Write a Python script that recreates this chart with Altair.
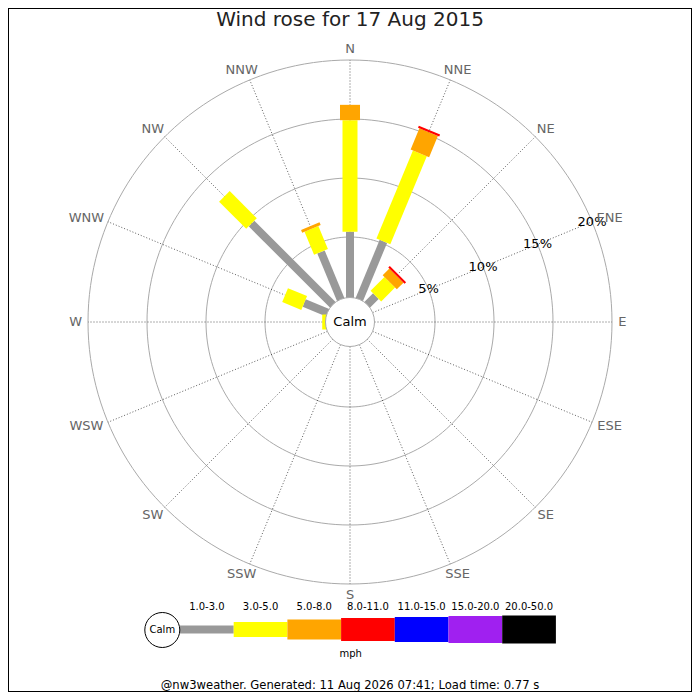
import altair as alt
import pandas as pd

# ---------------- text ----------------
TITLE = "Wind rose for 17 Aug 2015"
FOOTER = "@nw3weather. Generated: 11 Aug 2026 07:41; Load time: 0.77 s"
UNIT_LABEL = "mph"
CALM_LABEL = "Calm"

# ---------------- data ----------------
directions = ["N", "NNE", "NE", "ENE", "E", "ESE", "SE", "SSE",
              "S", "SSW", "SW", "WSW", "W", "WNW", "NW", "NNW"]
speed_classes = ["1.0-3.0", "3.0-5.0", "5.0-8.0", "8.0-11.0",
                 "11.0-15.0", "15.0-20.0", "20.0-50.0"]
class_colors = ["#999999", "#ffff00", "#ffa500", "#ff0000",
                "#0000ff", "#a020f0", "#000000"]
class_widths = [8, 15, 20, 23, 25, 27, 28]

# frequency (%) of each speed class, per direction (N, NNE, ... NNW)
freq_1_3   = [5.45, 5.19, 0.90, 0, 0, 0, 0, 0, 0, 0, 0, 0, 0.00, 2.00, 9.60, 4.22]
freq_3_5   = [9.45, 8.08, 1.66, 0, 0, 0, 0, 0, 0, 0, 0, 0, 0.15, 1.75, 3.25, 2.12]
freq_5_8   = [1.30, 1.94, 0.80, 0, 0, 0, 0, 0, 0, 0, 0, 0, 0.00, 0.00, 0.00, 0.25]
freq_8_11  = [0.00, 0.18, 0.18, 0, 0, 0, 0, 0, 0, 0, 0, 0, 0.00, 0.00, 0.00, 0.00]
freq_11_15 = [0] * 16
freq_15_20 = [0] * 16
freq_20_50 = [0] * 16
series = [freq_1_3, freq_3_5, freq_5_8, freq_8_11, freq_11_15, freq_15_20, freq_20_50]

ring_pcts = [5, 10, 15, 20]
ring_labels = ["5%", "10%", "15%", "20%"]

# ---------------- layout (pixels) ----------------
W = H = 684
CX, CY = 342, 314          # centre of the rose inside the plot area
K = 11.8                   # pixels per percent
HOLE = 26                  # radius (px) where 0 % starts
CALM_R = 24.5              # calm circle radius (px)
R0 = HOLE / K
LABEL_R = 268              # anchor radius of compass labels (px)
LABEL_FS = 13
RING_LABEL_DEG = 67.5


def u(px):
    return px / K


XS = alt.Scale(domain=[-u(CX), u(W - CX)], nice=False, zero=False)
YS = alt.Scale(domain=[-u(H - CY), u(CY)], nice=False, zero=False)
FONT = "DejaVu Sans"


def X(f="x"):
    return alt.X(f"{f}:Q", scale=XS, axis=None)


def Y(f="y"):
    return alt.Y(f"{f}:Q", scale=YS, axis=None)


# ---------------- tables ----------------
bar_rows = []
for ci, (cls, vals) in enumerate(zip(speed_classes, series)):
    for di, d in enumerate(directions):
        bar_rows.append({"dir": d, "di": di, "cls": cls, "ci": ci, "pct": vals[di]})
bars_df = pd.DataFrame(bar_rows)
dirs_df = pd.DataFrame({"dir": directions, "di": list(range(len(directions)))})
rings_df = pd.DataFrame({"ring": ring_pcts, "label": ring_labels})
legend_df = pd.DataFrame({"cls": speed_classes, "ci": list(range(len(speed_classes)))})

color_scale = alt.Scale(domain=speed_classes, range=class_colors)
width_scale = alt.Scale(type="ordinal", domain=speed_classes, range=class_widths)

# grid rings (one closed line per ring, sampled over the full turn)
ring_layers = []
for rp in ring_pcts:
    ring_layers.append(
        alt.Chart(alt.sequence(0, 362, 2, as_="ang"))
        .transform_calculate(
            x=f"({rp} + {R0}) * sin(datum.ang * PI / 180)",
            y=f"({rp} + {R0}) * cos(datum.ang * PI / 180)",
        )
        .mark_line(color="#aaaaaa", strokeWidth=1)
        .encode(x=X(), y=Y(), order="ang:Q")
    )

# spokes
spokes = (
    alt.Chart(dirs_df)
    .transform_calculate(a="datum.di * 22.5 * PI / 180")
    .transform_calculate(
        x=f"{u(CALM_R)} * sin(datum.a)", y=f"{u(CALM_R)} * cos(datum.a)",
        x2=f"{20 + R0} * sin(datum.a)", y2=f"{20 + R0} * cos(datum.a)",
    )
    .mark_rule(color="#333333", strokeWidth=0.8, strokeDash=[1, 2])
    .encode(x=X(), y=Y(), x2="x2:Q", y2="y2:Q")
)

# stacked bars
bars = (
    alt.Chart(bars_df)
    .transform_stack(stack="pct", groupby=["dir"], as_=["s0", "s1"],
                     sort=[alt.SortField("ci", order="ascending")])
    .transform_filter("datum.pct > 0")
    .transform_calculate(a="datum.di * 22.5 * PI / 180")
    .transform_calculate(
        r1=f"datum.s0 > 0.0001 ? datum.s0 + {R0} : 0",
        r2=f"datum.s1 + {R0}",
    )
    .transform_calculate(
        x="datum.r1 * sin(datum.a)", y="datum.r1 * cos(datum.a)",
        x2="datum.r2 * sin(datum.a)", y2="datum.r2 * cos(datum.a)",
    )
    .mark_rule(strokeCap="butt")
    .encode(
        x=X(), y=Y(), x2="x2:Q", y2="y2:Q",
        color=alt.Color("cls:N", scale=color_scale, legend=None),
        strokeWidth=alt.StrokeWidth("cls:N", scale=width_scale, legend=None),
    )
)

# calm circle
calm_df = pd.DataFrame({"label": [CALM_LABEL], "x": [0.0], "y": [0.0]})
calm_circle = (
    alt.Chart(calm_df)
    .mark_point(shape="circle", size=(2 * CALM_R) ** 2, filled=True,
                fill="white", stroke="#aaaaaa", strokeWidth=1,
                opacity=1, fillOpacity=1, strokeOpacity=1)
    .encode(x=X(), y=Y())
)
calm_text = (
    alt.Chart(calm_df)
    .mark_text(font=FONT, fontSize=13, color="black")
    .encode(x=X(), y=Y(), text="label:N")
)

# ring labels
ring_text = (
    alt.Chart(rings_df)
    .transform_calculate(
        x=f"(datum.ring + {R0}) * sin({RING_LABEL_DEG} * PI / 180)",
        y=f"(datum.ring + {R0}) * cos({RING_LABEL_DEG} * PI / 180)",
    )
    .mark_text(font=FONT, fontSize=13, color="black")
    .encode(x=X(), y=Y(), text="label:N")
)

# compass labels: pushed outward by half their (estimated) width / height
dir_text = (
    alt.Chart(dirs_df)
    .transform_calculate(
        a="datum.di * 22.5 * PI / 180",
        nw="length(replace(datum.dir, regexp('[^W]', 'g'), ''))",
    )
    .transform_calculate(
        hw=f"{LABEL_FS} * (0.67 * length(datum.dir) + 0.32 * datum.nw) / 2",
    )
    .transform_calculate(
        x=f"sin(datum.a) * ({LABEL_R} + datum.hw) / {K}",
        y=f"cos(datum.a) * ({LABEL_R} + 5) / {K}",
    )
    .mark_text(font=FONT, fontSize=LABEL_FS, color="#666666")
    .encode(x=X(), y=Y(), text="dir:N")
)

# title, footer, unit label
misc_df = pd.DataFrame({
    "t": [TITLE, FOOTER, UNIT_LABEL],
    "x": [0.0, 0.0, u(0.7)],
    "y": [u(CY - 12), -u(364), -u(332)],
    "size": [20, 11.6, 10],
    "color": ["#222222", "black", "black"],
})
misc_text = (
    alt.Chart(misc_df)
    .mark_text(font=FONT)
    .encode(
        x=X(), y=Y(), text="t:N",
        size=alt.Size("size:Q", scale=None, legend=None),
        color=alt.Color("color:N", scale=None, legend=None),
    )
)

# legend
LEG_X0, LEG_STEP, LEG_Y, LEG_LABEL_Y = -170, 53.7, -307.5, -284.7
leg = alt.Chart(legend_df).transform_calculate(
    x=f"{u(LEG_X0)} + datum.ci * {u(LEG_STEP)}",
    x2=f"{u(LEG_X0)} + (datum.ci + 1) * {u(LEG_STEP)}",
    xm=f"{u(LEG_X0)} + (datum.ci + 0.5) * {u(LEG_STEP)}",
    y=f"{u(LEG_Y)}",
    yl=f"{u(LEG_LABEL_Y)}",
)
leg_bars = leg.mark_rule(strokeCap="butt").encode(
    x=X(), x2="x2:Q", y=Y(),
    color=alt.Color("cls:N", scale=color_scale, legend=None),
    strokeWidth=alt.StrokeWidth("cls:N", scale=width_scale, legend=None),
)
leg_labels = leg.mark_text(font=FONT, fontSize=10, color="black").encode(
    x=X("xm"), y=Y("yl"), text="cls:N"
)
LEG_CALM_R = 17.5
leg_calm_df = pd.DataFrame({"label": [CALM_LABEL], "x": [-u(187.7)], "y": [-u(308)]})
leg_calm = (
    alt.Chart(leg_calm_df)
    .mark_point(shape="circle", size=(2 * LEG_CALM_R) ** 2, filled=True,
                fill="white", stroke="black", strokeWidth=1,
                opacity=1, fillOpacity=1, strokeOpacity=1)
    .encode(x=X(), y=Y())
)
leg_calm_text = (
    alt.Chart(leg_calm_df)
    .mark_text(font=FONT, fontSize=10, color="black")
    .encode(x=X(), y=Y(), text="label:N")
)

chart = (
    alt.layer(
        *ring_layers, spokes, bars, calm_circle, calm_text, ring_text, dir_text,
        leg_bars, leg_labels, leg_calm, leg_calm_text, misc_text,
    )
    .properties(width=W, height=H, padding=0,
                autosize=alt.AutoSizeParams(type="none"))
    .configure_view(stroke="black", strokeWidth=2)
)

chart.save("out.html", embed_options={"renderer": "svg", "actions": False})
